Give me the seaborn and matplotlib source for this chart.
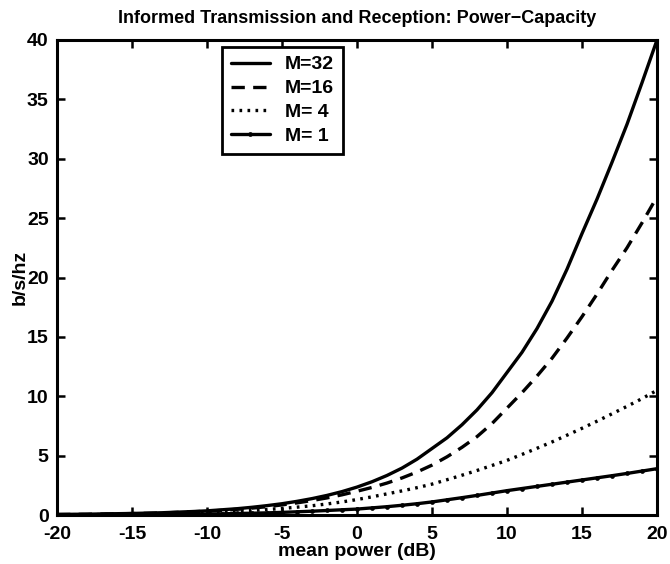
import numpy as np
import pandas as pd
import matplotlib
matplotlib.use("Agg")
import matplotlib.pyplot as plt
import seaborn as sns

# mean power (dB), read at 1 dB steps
power_db = list(range(-20, 21))
cap_m32 = [0.05, 0.06, 0.07, 0.09, 0.11, 0.13, 0.16, 0.19, 0.24, 0.29, 0.35,
           0.44, 0.53, 0.65, 0.79, 0.95, 1.15, 1.38, 1.65, 1.97, 2.35,
           2.80, 3.33, 3.95, 4.70, 5.60, 6.50, 7.60, 8.85, 10.3, 12.0,
           13.7, 15.7, 18.0, 20.7, 23.7, 26.6, 29.7, 32.9, 36.4, 40.0]
cap_m16 = [0.04, 0.05, 0.06, 0.08, 0.10, 0.12, 0.14, 0.17, 0.22, 0.27, 0.32,
           0.39, 0.48, 0.58, 0.70, 0.85, 1.02, 1.22, 1.44, 1.70, 2.00,
           2.32, 2.69, 3.12, 3.62, 4.20, 4.90, 5.70, 6.60, 7.70, 9.00,
           10.3, 11.7, 13.2, 14.9, 16.7, 18.6, 20.6, 22.5, 24.6, 26.8]
cap_m4 = [0.02, 0.03, 0.03, 0.04, 0.05, 0.07, 0.08, 0.10, 0.13, 0.16, 0.20,
          0.25, 0.31, 0.38, 0.46, 0.55, 0.66, 0.78, 0.93, 1.10, 1.30,
          1.53, 1.78, 2.03, 2.30, 2.60, 2.97, 3.35, 3.75, 4.17, 4.60,
          5.10, 5.62, 6.15, 6.72, 7.30, 7.90, 8.52, 9.15, 9.80, 10.5]
cap_m1 = [0.01, 0.01, 0.02, 0.02, 0.03, 0.03, 0.04, 0.05, 0.06, 0.07, 0.08,
          0.10, 0.13, 0.15, 0.18, 0.22, 0.27, 0.32, 0.38, 0.44, 0.50,
          0.60, 0.70, 0.82, 0.95, 1.10, 1.28, 1.46, 1.65, 1.85, 2.05,
          2.23, 2.41, 2.59, 2.77, 2.95, 3.13, 3.31, 3.50, 3.70, 3.90]

labels = ["M=32", "M=16", "M= 4", "M= 1"]
x_ticks = [-20, -15, -10, -5, 0, 5, 10, 15, 20]
y_ticks = [0, 5, 10, 15, 20, 25, 30, 35, 40]

sns.set_style("ticks")
plt.rcParams["font.family"] = ["Liberation Sans", "DejaVu Sans"]
plt.rcParams["font.weight"] = "bold"
plt.rcParams["xtick.direction"] = "in"
plt.rcParams["ytick.direction"] = "in"
plt.rcParams["text.color"] = "k"
plt.rcParams["xtick.color"] = "k"
plt.rcParams["ytick.color"] = "k"
plt.rcParams["axes.labelcolor"] = "k"

fig = plt.figure(figsize=(6.7, 5.64), dpi=100)
ax = fig.add_axes([57 / 670, 49 / 564, 600 / 670, 475 / 564])

lw = 2.4
sns.lineplot(x=power_db, y=cap_m32, ax=ax, color="k", lw=lw, label=labels[0])
sns.lineplot(x=power_db, y=cap_m16, ax=ax, color="k", lw=lw, linestyle=(0, (4, 2.5)), label=labels[1])
sns.lineplot(x=power_db, y=cap_m4, ax=ax, color="k", lw=lw, linestyle=(0, (0.8, 1.6)), label=labels[2])
sns.lineplot(x=power_db, y=cap_m1, ax=ax, color="k", lw=lw, marker="o", markersize=3.4,
             markeredgewidth=0, label=labels[3])

ax.set_xlim(-20, 20)
ax.set_ylim(0, 40)
ax.set_xticks(x_ticks)
ax.set_yticks(y_ticks)
ax.set_xticklabels([str(t) for t in x_ticks], fontsize=14, fontweight="bold")
ax.set_yticklabels([str(t) for t in y_ticks], fontsize=14, fontweight="bold")
ax.tick_params(axis="x", which="both", direction="in", length=6, width=1.8,
               top=True, pad=8, colors="k")
ax.tick_params(axis="y", which="both", direction="in", length=6, width=1.8,
               left=True, right=True, pad=6, colors="k")
for sp in ax.spines.values():
    sp.set_visible(True)
    sp.set_linewidth(2.2)
    sp.set_color("k")

ax.set_xlabel("mean power (dB)", fontsize=14, fontweight="bold", labelpad=0)
ax.set_ylabel("b/s/hz", fontsize=14, fontweight="bold", labelpad=-1.5)
ax.set_title("Informed Transmission and Reception: Power\u2212Capacity", fontsize=13,
             fontweight="bold", pad=12)

leg = ax.legend(loc="upper left", bbox_to_anchor=(0.275, 0.985), borderaxespad=0,
                frameon=True, fancybox=False, edgecolor="k", fontsize=14,
                handlelength=2.0, borderpad=0.45, labelspacing=0.32, handletextpad=0.8)
frame = leg.get_frame()
frame.set_linewidth(2.0)
frame.set_alpha(1)
frame.set_edgecolor("k")
frame.set_facecolor("white")
for t in leg.get_texts():
    t.set_fontweight("bold")

fig.savefig("out.png", dpi=100, facecolor="white")
